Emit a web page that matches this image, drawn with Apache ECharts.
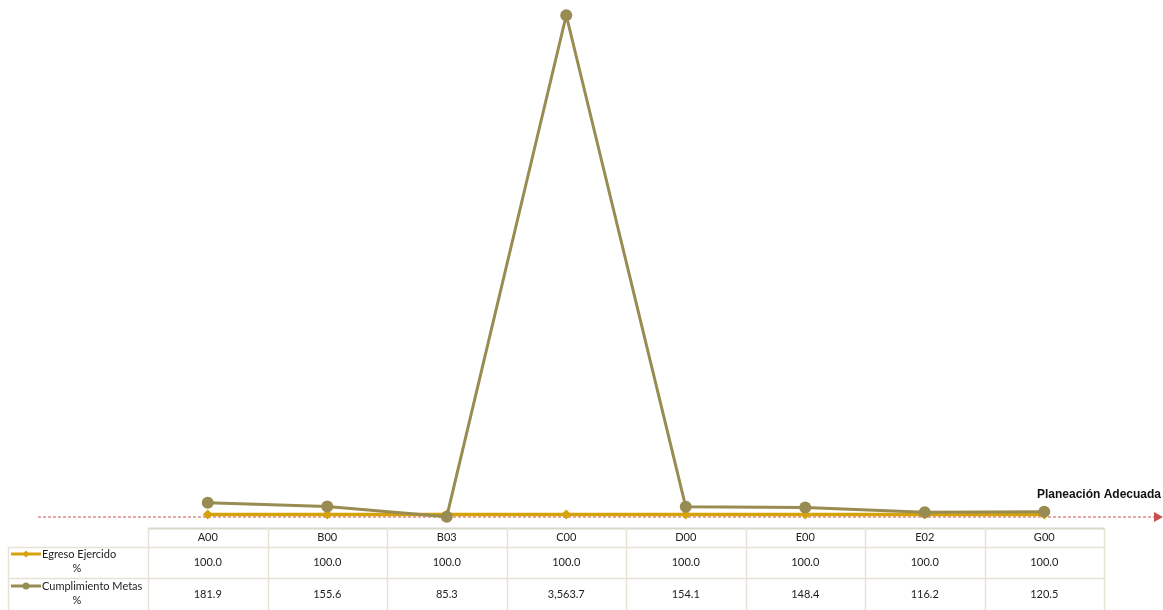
<!DOCTYPE html>
<html><head><meta charset="utf-8">
<script src="https://cdn.jsdelivr.net/npm/echarts@6/dist/echarts.min.js"></script>
<style>html,body{margin:0;padding:0;background:#fff;}#c{width:1163px;height:610px;}</style>
</head><body><div id="c"></div>
<script>
const categories = ['A00','B00','B03','C00','D00','E00','E02','G00'];
const egresoLabel = 'Egreso Ejercido %';
const egreso = [100.0,100.0,100.0,100.0,100.0,100.0,100.0,100.0];
const metasLabel = 'Cumplimiento Metas %';
const metas = [181.9,155.6,85.3,3563.7,154.1,148.4,116.2,120.5];
const refLabel = 'Planeación Adecuada';

const GL = 148, GR = 1104, GT = 10, GB = 529;
const colW = (GR - GL) / categories.length;
const font = 'Lato, "Open Sans", sans-serif';
const lineCol = '#e6e2d6';
const cEg = '#D6A20A', cMe = '#988C52';

function fmt(v){ return v.toLocaleString('en-US',{minimumFractionDigits:1,maximumFractionDigits:1}); }

const g = [];
g.push({type:'line', shape:{x1:38,y1:517,x2:1156,y2:517}, style:{stroke:'#C9504D', lineWidth:1, lineDash:[3,2]}, z:1});
g.push({type:'polygon', shape:{points:[[1154,512],[1163,517],[1154,522]]}, style:{fill:'#C9504D'}, z:1});
g.push({type:'text', x:1161, y:495, style:{text:refLabel, align:'right', verticalAlign:'middle', font:'bold 12px "Liberation Sans", Arial, sans-serif', fill:'#111'}});

g.push({type:'line', shape:{x1:GL,y1:528.5,x2:GR,y2:528.5}, style:{stroke:'#d9d6cc', lineWidth:2}});
g.push({type:'line', shape:{x1:8,y1:547.5,x2:GR,y2:547.5}, style:{stroke:lineCol, lineWidth:1.5}});
g.push({type:'line', shape:{x1:8,y1:578.5,x2:GR,y2:578.5}, style:{stroke:lineCol, lineWidth:1.5}});
g.push({type:'line', shape:{x1:8.5,y1:547,x2:8.5,y2:610}, style:{stroke:lineCol, lineWidth:1.5}});
for(let i=0;i<=categories.length;i++){
  const x = Math.round(GL + i*colW)+0.5;
  g.push({type:'line', shape:{x1:x,y1:528,x2:x,y2:610}, style:{stroke:lineCol, lineWidth:1.5}});
}
categories.forEach((c,i)=>{
  const cx = GL + (i+0.5)*colW;
  g.push({type:'text', x:cx, y:537.5, style:{text:c, align:'center', verticalAlign:'middle', font:'11px '+font, fill:'#222'}});
  g.push({type:'text', x:cx, y:562.5, style:{text:fmt(egreso[i]), align:'center', verticalAlign:'middle', font:'11px '+font, fill:'#222'}});
  g.push({type:'text', x:cx, y:594, style:{text:fmt(metas[i]), align:'center', verticalAlign:'middle', font:'11px '+font, fill:'#222'}});
});
function rowLabel(label, y, color, sym){
  const parts = label.split(' ');
  const pct = parts.pop();
  g.push({type:'line', shape:{x1:11,y1:y,x2:41,y2:y}, style:{stroke:color, lineWidth:3}});
  if(sym==='diamond') g.push({type:'polygon', shape:{points:[[26,y-3.5],[29.5,y],[26,y+3.5],[22.5,y]]}, style:{fill:color}});
  else g.push({type:'circle', shape:{cx:26,cy:y,r:3.5}, style:{fill:color}});
  g.push({type:'text', x:42, y:y, style:{text:parts.join(' '), align:'left', verticalAlign:'middle', font:'11px '+font, fill:'#222'}});
  g.push({type:'text', x:77, y:y+14, style:{text:pct, align:'center', verticalAlign:'middle', font:'11px '+font, fill:'#222'}});
}
rowLabel(egresoLabel, 554, cEg, 'diamond');
rowLabel(metasLabel, 586, cMe, 'circle');

const chart = echarts.init(document.getElementById('c'), null, {renderer:'canvas'});
chart.setOption({
  animation:false,
  grid:{left:GL, right:1163-GR, top:GT, bottom:610-GB},
  xAxis:{type:'category', data:categories, boundaryGap:true, show:false},
  yAxis:{type:'value', min:0, max:3600, show:false, splitLine:{show:false}},
  series:[
    {name:egresoLabel, type:'line', data:egreso, symbol:'diamond', symbolSize:10, itemStyle:{color:cEg}, lineStyle:{color:cEg, width:3.5}, z:3},
    {name:metasLabel, type:'line', data:metas, symbol:'circle', symbolSize:12, itemStyle:{color:cMe}, lineStyle:{color:cMe, width:3}, z:4}
  ],
  graphic:g
});
</script></body></html>
